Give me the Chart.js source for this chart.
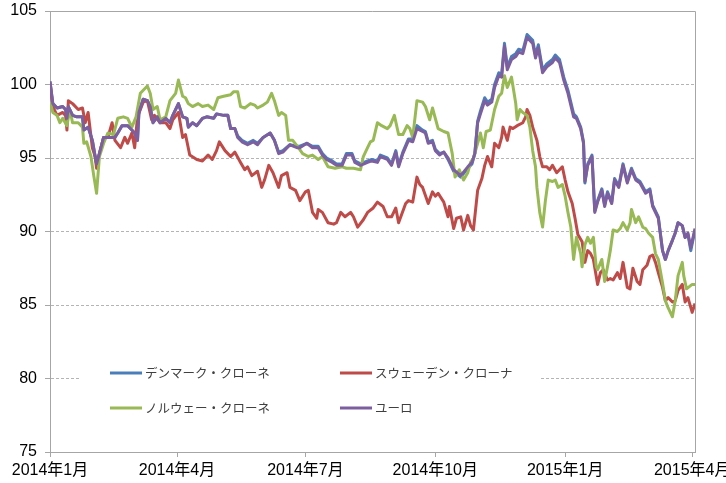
<!DOCTYPE html>
<html>
<head>
<meta charset="utf-8">
<script src="https://cdn.jsdelivr.net/npm/chart.js@4.4.1/dist/chart.umd.min.js"></script>
<style>
  html, body { margin: 0; padding: 0; background: #fff; overflow: hidden; }
</style>
</head>
<body>
<canvas id="myChart" width="726" height="483"></canvas>
<script>
// x = days since 2014-01-01
var tickDays = [0, 90, 181, 273, 365, 455];
var tickLabels = ["2014年1月", "2014年4月", "2014年7月", "2014年10月", "2015年1月", "2015年4月"];

var seriesNames = ["デンマーク・クローネ", "スウェーデン・クローナ", "ノルウェー・クローネ", "ユーロ"];
var seriesColors = ["#4a7ebb", "#be4b48", "#98b954", "#7d5fa0"];

var eurDays = [0,2,5,9,11,12,13,16,19,23,
  24,27,30,32,33,35,38,43,46,48,
  51,55,58,60,62,63,66,69,71,73,
  76,78,82,85,87,91,94,97,98,101,
  104,108,111,116,118,123,126,128,131,133,
  136,140,144,147,151,156,159,162,165,170,
  175,177,182,186,188,190,193,196,200,203,
  207,210,214,216,220,225,228,232,234,239,
  242,245,247,250,254,257,260,264,266,268,
  271,273,276,279,282,286,291,296,299,301,
  303,305,308,310,313,315,318,320,322,324,
  327,330,332,335,338,342,344,346,349,352,
  356,358,361,364,367,371,373,376,378,379,
  381,384,386,388,391,393,395,398,400,403,
  406,409,412,415,418,422,425,427,431,434,
  436,438,441,443,445,448,450,452,454,457];

var eurValues = [100.2,98.7,98.4,98.5,98.3,97.7,98.5,97.9,97.8,97.8,
  96.9,97.1,96.2,95.1,94.6,95.3,96.4,96.4,96.4,96.7,
  97.2,97.2,96.9,96.7,96.2,98.1,99.0,98.9,98.5,97.4,
  97.8,97.4,97.7,97.4,97.9,98.7,97.8,97.7,97.1,97.4,
  97.2,97.7,97.8,97.7,98.0,97.9,97.9,97.0,97.0,96.4,
  96.1,95.9,96.1,95.9,96.4,96.7,96.2,95.3,95.4,95.9,
  95.7,95.7,96.0,95.7,95.7,95.7,95.2,94.9,94.7,94.5,
  94.5,95.2,95.2,94.7,94.5,94.7,94.8,94.7,95.1,94.9,
  94.5,95.4,94.4,95.3,96.2,96.1,97.0,96.8,96.7,96.0,
  96.1,95.5,95.2,95.4,95.0,94.2,93.8,94.4,94.7,95.3,
  97.4,98.0,98.9,98.6,98.8,99.8,100.6,100.5,102.6,101.0,
  101.7,101.9,102.2,102.1,103.2,102.8,101.8,102.5,100.8,101.2,
  101.5,101.8,101.5,100.3,99.4,97.8,97.7,97.0,96.0,93.4,
  94.5,95.1,91.3,92.0,92.8,91.7,92.6,91.9,93.5,93.0,
  94.5,93.3,94.2,93.5,93.3,92.6,92.8,91.7,90.9,88.7,
  88.1,88.7,89.4,89.9,90.6,90.4,89.6,89.9,88.9,90.2];

// same trading days as the euro
var dkkValues = [100.2,98.7,98.4,98.5,98.3,97.7,98.5,97.9,97.8,97.8,
  96.9,97.1,96.2,95.1,94.6,95.3,96.4,96.4,96.4,96.7,
  97.2,97.2,96.9,96.7,96.2,98.1,99.0,98.9,98.5,97.4,
  97.8,97.4,97.7,97.4,97.9,98.7,97.8,97.7,97.1,97.4,
  97.2,97.7,97.8,97.7,98.0,97.9,97.9,97.0,97.0,96.5,
  96.2,96.0,96.2,96.0,96.4,96.7,96.2,95.4,95.5,95.9,
  95.8,95.8,96.0,95.8,95.8,95.8,95.3,95.0,94.8,94.6,
  94.6,95.3,95.3,94.8,94.6,94.8,94.9,94.8,95.2,95.0,
  94.6,95.5,94.5,95.4,96.3,96.3,97.2,96.9,96.8,96.1,
  96.2,95.6,95.3,95.4,94.9,94.1,93.7,94.3,94.6,95.3,
  97.5,98.2,99.1,98.8,99.0,100.0,100.8,100.7,102.8,101.2,
  101.9,102.1,102.4,102.3,103.4,103.0,102.0,102.7,101.0,101.4,
  101.7,102.0,101.7,100.5,99.6,98.0,97.8,97.1,96.1,93.3,
  94.6,95.2,91.4,92.1,92.9,91.8,92.7,92.0,93.6,93.1,
  94.6,93.4,94.3,93.6,93.4,92.7,92.9,91.8,91.0,88.7,
  88.1,88.7,89.4,89.9,90.6,90.4,89.6,89.8,88.7,90.1];

var sekDays = [0,2,5,9,11,12,13,16,20,23,
  25,27,30,32,33,35,38,41,44,46,
  50,53,55,58,60,62,66,69,72,74,
  78,82,85,87,91,94,96,99,104,108,
  112,115,118,120,124,128,131,135,138,140,
  143,147,150,152,155,158,162,164,168,170,
  174,177,181,183,186,189,190,193,197,201,
  203,206,209,213,215,218,222,225,229,232,
  236,239,242,245,247,252,254,257,260,262,
  264,268,271,273,275,279,282,283,286,288,
  291,293,296,298,300,303,306,308,310,313,
  315,318,320,321,324,326,328,331,335,337,
  338,340,342,345,347,349,352,354,356,359,
  363,365,367,370,372,374,377,379,381,383,
  385,388,390,392,395,397,399,402,404,406,
  409,411,413,416,418,420,423,425,427,429,
  431,434,436,438,441,443,445,448,450,452,
  455,457];

var sekValues = [100.1,98.5,97.9,98.1,97.9,96.9,98.9,98.7,98.3,98.4,
  97.4,98.1,95.7,95.1,94.3,95.3,96.4,96.4,97.4,96.2,
  95.7,96.4,96.0,96.7,95.7,97.8,98.8,98.9,97.6,97.9,
  97.4,97.4,97.0,97.6,98.1,96.4,96.6,95.2,94.9,94.8,
  95.2,94.9,95.5,96.1,95.5,95.1,95.4,94.7,94.2,94.4,
  93.8,94.1,93.0,93.5,94.5,94.0,93.0,93.8,94.0,93.0,
  92.8,92.1,92.7,92.8,91.3,90.9,91.5,91.3,90.6,90.5,
  90.6,91.3,91.0,91.3,91.0,90.3,90.8,91.3,91.6,92.0,
  91.7,91.0,91.0,91.6,90.6,91.9,92.1,92.0,93.7,93.2,
  93.0,91.9,92.7,92.4,92.6,92.0,91.0,91.7,90.2,90.9,
  91.0,90.1,91.1,90.4,90.1,92.8,93.6,94.5,95.1,94.4,
  96.0,95.7,96.4,97.1,96.2,97.1,97.0,97.2,97.4,97.8,
  98.3,97.9,97.1,96.2,95.1,94.4,94.4,94.2,94.5,94.0,
  94.4,93.5,92.7,91.9,90.9,89.8,89.3,87.9,88.7,88.5,
  88.1,86.4,87.2,87.4,86.7,86.8,86.7,87.2,86.8,87.9,
  86.2,86.1,87.5,86.6,86.4,87.4,87.7,88.3,88.4,87.9,
  87.2,86.2,85.3,85.5,85.2,85.3,86.0,86.4,85.2,85.5,
  84.5,85.1];

var nokDays = [0,2,5,7,9,12,14,16,20,23,
  24,26,29,31,33,35,38,41,45,48,
  52,55,58,61,64,69,71,73,76,78,
  82,85,89,91,94,96,98,101,105,108,
  112,116,119,123,128,130,133,135,138,142,
  145,147,151,154,157,159,162,164,167,169,
  172,176,179,183,186,190,193,197,202,207,
  210,215,220,222,225,227,229,232,235,239,
  241,244,247,250,253,255,257,260,264,266,
  269,271,275,279,282,285,287,290,293,296,
  298,300,303,305,307,309,312,315,318,320,
  322,324,327,330,331,333,335,338,340,342,
  344,345,347,349,351,353,356,358,360,363,
  365,367,369,371,373,376,377,379,381,383,
  385,387,388,391,393,395,397,399,402,404,
  406,409,411,412,415,417,420,422,424,427,
  429,431,434,436,438,441,443,445,448,449,
  451,455,457];

var nokValues = [98.8,98.1,97.9,97.4,97.7,97.2,98.3,97.4,97.4,97.1,
  96.0,96.1,95.1,93.8,92.6,95.1,96.0,96.7,96.6,97.7,
  97.8,97.7,97.1,97.8,99.4,99.9,99.4,98.3,98.5,97.6,
  97.8,98.9,99.4,100.3,99.2,99.1,98.7,98.5,98.7,98.5,
  98.6,98.3,99.1,99.2,99.3,99.5,99.5,98.5,98.4,98.7,
  98.6,98.4,98.6,98.8,99.4,98.9,97.9,98.1,97.9,96.2,
  96.2,95.7,95.3,95.1,95.2,94.9,95.1,94.4,94.3,94.4,
  94.3,94.3,94.2,95.1,95.7,96.1,96.2,97.4,97.2,97.0,
  97.2,97.9,96.6,96.6,97.2,97.0,96.4,98.9,98.8,98.5,
  97.6,98.4,97.0,96.8,96.7,95.3,93.7,94.2,93.5,94.0,
  94.7,95.0,96.0,96.7,95.7,96.8,96.9,98.3,99.2,99.4,
  100.6,99.8,100.5,98.7,97.6,98.3,98.1,97.9,97.1,95.5,
  94.4,93.0,91.3,90.3,92.1,93.5,93.4,93.5,93.0,93.2,
  92.4,91.3,90.3,88.1,89.6,88.5,87.6,89.1,89.6,89.2,
  89.6,87.6,87.4,88.1,86.6,87.6,88.7,90.1,90.0,90.2,
  90.6,90.1,90.6,91.5,90.6,91.0,90.3,90.2,89.9,89.6,
  88.5,88.1,86.5,85.3,84.8,84.2,85.3,87.0,87.9,87.0,
  86.1,86.4,86.4];

function toPoints(days, values) {
  return days.map(function (d, i) { return {x: d, y: values[i]}; });
}

var gridGray = "#b4b4b4";
var axisGray = "#a6a6a6";

// box around the plot (top and right edges)
var plotBorder = {
  id: "plotBorder",
  beforeDatasetsDraw: function (chart) {
    var a = chart.chartArea, ctx = chart.ctx;
    ctx.save();
    ctx.strokeStyle = axisGray;
    ctx.lineWidth = 1;
    ctx.beginPath();
    ctx.moveTo(a.left, a.top + 0.5);
    ctx.lineTo(a.right + 0.5, a.top + 0.5);
    ctx.lineTo(a.right + 0.5, a.bottom);
    ctx.stroke();
    ctx.restore();
  }
};

// legend drawn inside the plot, two columns
var insideLegend = {
  id: "insideLegend",
  afterDraw: function (chart) {
    var ctx = chart.ctx;
    ctx.save();
    ctx.fillStyle = "#fff";
    ctx.fillRect(81, 357, 459, 66);
    ctx.font = '12.5px "Noto Sans CJK JP", sans-serif';
    ctx.textBaseline = "middle";
    chart.data.datasets.forEach(function (ds, k) {
      var x = (k % 2) ? 340 : 110;
      var y = (k < 2) ? 373 : 408;
      ctx.strokeStyle = ds.borderColor;
      ctx.lineWidth = 3;
      ctx.beginPath();
      ctx.moveTo(x, y);
      ctx.lineTo(x + 32, y);
      ctx.stroke();
      ctx.fillStyle = "#404040";
      ctx.fillText(ds.label, x + 35, y);
    });
    ctx.restore();
  }
};

new Chart("myChart", {
  type: "line",
  data: {
    datasets: [
      {label: seriesNames[0], data: toPoints(eurDays, dkkValues), borderColor: seriesColors[0], order: 4},
      {label: seriesNames[1], data: toPoints(sekDays, sekValues), borderColor: seriesColors[1], order: 3},
      {label: seriesNames[2], data: toPoints(nokDays, nokValues), borderColor: seriesColors[2], order: 2},
      {label: seriesNames[3], data: toPoints(eurDays, eurValues), borderColor: seriesColors[3], order: 1}
    ]
  },
  options: {
    responsive: false,
    animation: false,
    devicePixelRatio: 1,
    layout: {padding: {top: 11, right: 31, bottom: 0, left: 0}},
    elements: {
      line: {borderWidth: 3, tension: 0, borderJoinStyle: "round", fill: false},
      point: {radius: 0, hoverRadius: 0}
    },
    plugins: {
      legend: {display: false},
      tooltip: {enabled: false}
    },
    scales: {
      x: {
        type: "linear",
        min: 0,
        max: 457,
        afterBuildTicks: function (scale) {
          scale.ticks = tickDays.map(function (v) { return {value: v}; });
        },
        afterFit: function (scale) {
          scale.paddingLeft = 0;
          scale.paddingRight = 0;
          scale.height = 31;
        },
        ticks: {
          autoSkip: false,
          maxRotation: 0,
          padding: 4,
          color: "#000",
          font: {family: '"Liberation Sans", "Noto Sans CJK JP", sans-serif', size: 16},
          callback: function (v) { return tickLabels[tickDays.indexOf(v)]; }
        },
        grid: {drawOnChartArea: false, drawTicks: true, tickLength: 5, color: axisGray},
        border: {color: axisGray, width: 1}
      },
      y: {
        min: 75,
        max: 105,
        afterFit: function (scale) {
          scale.width = 50;
          scale.paddingTop = 0;
          scale.paddingBottom = 0;
        },
        ticks: {
          stepSize: 5,
          padding: 8,
          color: "#000",
          font: {family: '"Liberation Sans", sans-serif', size: 16}
        },
        grid: {
          tickLength: 5,
          tickColor: axisGray,
          color: function (c) {
            var v = c.tick ? c.tick.value : 0;
            return (v === 75 || v === 105) ? "rgba(0,0,0,0)" : gridGray;
          }
        },
        border: {color: axisGray, width: 1, dash: [3, 2]}
      }
    }
  },
  plugins: [plotBorder, insideLegend]
});
</script>
</body>
</html>
